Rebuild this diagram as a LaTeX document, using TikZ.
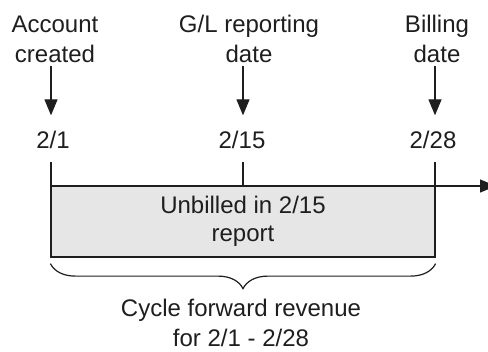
\documentclass[tikz,border=0pt]{standalone}
\usepackage{fontspec}
\setmainfont{Liberation Sans}
\usepackage{tikz}
\usetikzlibrary{arrows.meta, decorations.pathreplacing}
\definecolor{boxgray}{RGB}{230,230,230}
\definecolor{ink}{RGB}{30,30,30}
\tikzstyle{event} = [align=center, inner sep=0pt, anchor=base,
    text=ink, font=\fontsize{18}{22.5}\selectfont]
\tikzstyle{datum} = [inner sep=0pt, anchor=base,
    text=ink, font=\fontsize{18}{22.5}\selectfont]
\tikzstyle{span} = [rectangle, draw=ink, fill=boxgray, align=center,
    minimum width=288pt, minimum height=53.25pt, inner sep=0pt,
    text=ink, font=\fontsize{18}{21}\selectfont]
\tikzstyle{line} = [draw=ink, -{Triangle[width=9.75pt,length=12pt]}]
\tikzstyle{tick} = [draw=ink]

\begin{document}
\begin{tikzpicture}[x=0.75pt, y=-0.75pt, line width=0.9pt]
                \useasboundingbox (0,0) rectangle (488,351);
                \coordinate (tk1) at (51,186);
                \coordinate (tk2) at (243,186);
                \coordinate (tk3) at (435,186);
                \coordinate (axisend) at (496,186);
                \node [event] at (55,62) (created) {Account\\created};
                \node [event] at (249,62) (glrep) {G/L reporting\\date};
                \node [event] at (437,62) (billing) {Billing\\date};
                \node [datum] at (53,148) (d1) {2/1};
                \node [datum] at (242,148) (d2) {2/15};
                \node [datum] at (433,148) (d3) {2/28};
                \node [span] at (243,221.5) (unbilled) {Unbilled in 2/15\\report};
                \node [event] at (241,346) (cycle) {Cycle forward revenue\\for 2/1 - 2/28};
                \path [line, shorten <=2pt, shorten >=11pt] (created.south -| tk1) -- (d1.north -| tk1);
                \path [line, shorten <=2pt, shorten >=11pt] (glrep.south -| tk2) -- (d2.north -| tk2);
                \path [line, shorten <=2pt, shorten >=11pt] (billing.south -| tk3) -- (d3.north -| tk3);
                \path [tick] (tk1) -- ++(0,-24);
                \path [tick] (tk2) -- ++(0,-24);
                \path [tick] (tk3) -- ++(0,-24);
                \path [line] (tk1) -- (axisend);
                \draw [ink, decorate, decoration={brace, mirror, amplitude=18.75pt}]
                    ([yshift=-4.5pt]unbilled.south west) -- ([yshift=-4.5pt]unbilled.south east);
            \end{tikzpicture}
\end{document}
